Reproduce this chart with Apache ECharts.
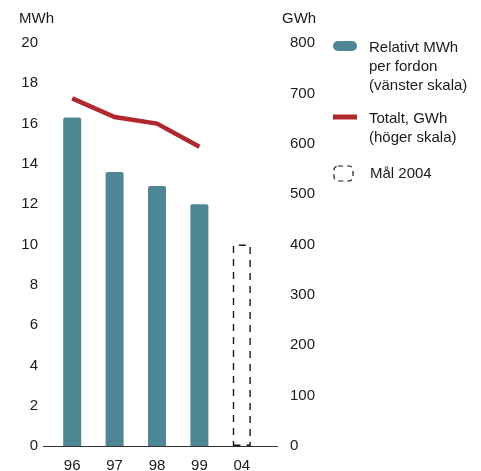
<!DOCTYPE html>
<html>
<head>
<meta charset="utf-8">
<script src="https://cdn.jsdelivr.net/npm/echarts@6/dist/echarts.min.js"></script>
<style>
  html, body { margin: 0; padding: 0; background: #fff; }
  #chart { width: 481px; height: 471px; }
</style>
</head>
<body>
<div id="chart"></div>
<script>
// Years on the category axis
const years = ['96', '97', '98', '99', '04'];
// Energy use per vehicle, MWh (left scale)
const mwhPerVehicle = [16.3, 13.6, 12.9, 12.0, null];
// Total energy use, GWh (right scale)
const totalGwh = [690, 653, 640, 594, null];
// Target for 2004, MWh per vehicle
const target2004 = [null, null, null, null, 10];
// Axis tick settings
const leftMax = 20, leftStep = 2;
const rightMax = 800, rightStep = 100;

const FONT = 'Liberation Sans, Arial, sans-serif';
const TEAL = '#4f8694';
const RED = '#b0282e';
const INK = '#1a1a1a';

const chart = echarts.init(document.getElementById('chart'), null, { renderer: 'canvas' });

const gridLeft = 51, gridRight = 218, gridTop = 43, gridBottom = 25;

chart.setOption({
  animation: false,
  grid: { left: gridLeft, right: gridRight, top: gridTop, bottom: gridBottom, outerBoundsMode: 'none', containLabel: false },
  xAxis: {
    type: 'category',
    data: years,
    axisLine: { show: false },
    axisTick: { show: false },
    axisLabel: { color: INK, fontFamily: FONT, fontSize: 15, margin: 12 }
  },
  yAxis: [
    {
      type: 'value', min: 0, max: leftMax, interval: leftStep,
      name: 'MWh', nameLocation: 'end', nameGap: 17,
      nameTextStyle: { color: INK, fontFamily: FONT, fontSize: 15, align: 'right', padding: [0, -3, 0, 0] },
      axisLine: { show: false }, axisTick: { show: false }, splitLine: { show: false },
      axisLabel: { color: INK, fontFamily: FONT, fontSize: 15, margin: 13 }
    },
    {
      type: 'value', min: 0, max: rightMax, interval: rightStep,
      name: 'GWh', nameLocation: 'end', nameGap: 17,
      nameTextStyle: { color: INK, fontFamily: FONT, fontSize: 15, align: 'left', padding: [0, 0, 0, 19] },
      axisLine: { show: false }, axisTick: { show: false }, splitLine: { show: false },
      axisLabel: { color: INK, fontFamily: FONT, fontSize: 15, margin: 27 }
    }
  ],
  series: [
    {
      name: 'Relativt MWh per fordon (vänster skala)',
      type: 'bar', yAxisIndex: 0, barWidth: 18, barGap: '-100%',
      data: mwhPerVehicle,
      itemStyle: { color: TEAL, borderRadius: [2, 2, 0, 0] }
    },
    {
      name: 'Mål 2004',
      type: 'bar', yAxisIndex: 0, barWidth: 18, barGap: '-100%',
      data: target2004,
      itemStyle: { color: 'rgba(0,0,0,0)', borderColor: INK, borderWidth: 1.4, borderType: [7, 6] }
    },
    {
      name: 'Totalt, GWh (höger skala)',
      type: 'line', yAxisIndex: 1,
      data: totalGwh,
      symbol: 'none',
      lineStyle: { color: RED, width: 4.5, cap: 'butt', join: 'miter' }
    }
  ],
  graphic: [
    // baseline, running past the outer bars
    { type: 'line', shape: { x1: 43, y1: 446.5, x2: 278, y2: 446.5 }, style: { stroke: '#333', lineWidth: 1 } },
    // legend
    { type: 'rect', shape: { x: 333, y: 41, width: 24, height: 10, r: 5 }, style: { fill: TEAL } },
    { type: 'text', left: 369, top: 38, style: { text: 'Relativt MWh\nper fordon\n(vänster skala)', font: '15px ' + FONT, fill: INK, lineHeight: 19 } },
    { type: 'line', shape: { x1: 333, y1: 117, x2: 357, y2: 117 }, style: { stroke: RED, lineWidth: 5 } },
    { type: 'text', left: 369, top: 109, style: { text: 'Totalt, GWh\n(höger skala)', font: '15px ' + FONT, fill: INK, lineHeight: 19 } },
    { type: 'rect', shape: { x: 334, y: 166, width: 19, height: 15, r: 4 }, style: { fill: 'none', stroke: INK, lineWidth: 1.2, lineDash: [5, 4] } },
    { type: 'text', left: 370, top: 166, style: { text: 'Mål 2004', font: '15px ' + FONT, fill: INK } }
  ]
});
</script>
</body>
</html>
